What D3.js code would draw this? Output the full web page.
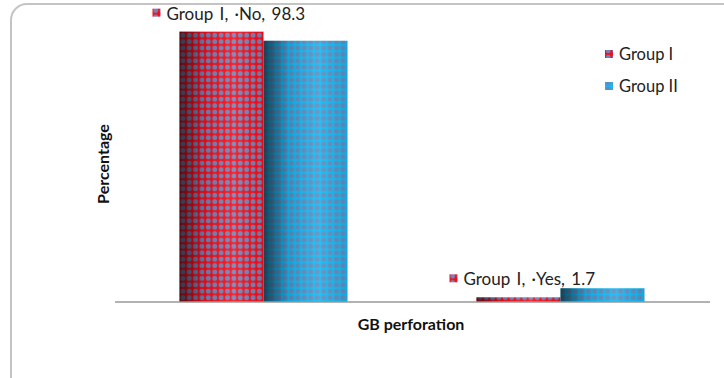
<!DOCTYPE html>
<html>
<head>
<meta charset="utf-8">
<script src="https://cdn.jsdelivr.net/npm/d3@7"></script>
<style>
  body { margin: 0; background: #fff; }
  svg { display: block; font-family: Lato, "Open Sans", sans-serif; }
</style>
</head>
<body>
<svg id="chart" width="724" height="378"></svg>
<script>
// data
const categories = ["No", "Yes"];
const seriesNames = ["Group I", "Group II"];
const groupOne = [98.3, 1.7];
const groupTwo = [95.0, 5.0];

const svg = d3.select("#chart");
const margin = { top: 27, left: 115, right: 15, bottom: 76 };
const width = 724, height = 378;

// outer frame with rounded corner
svg.append("rect")
    .attr("x", 11).attr("y", 4)
    .attr("width", 740).attr("height", 400)
    .attr("rx", 16)
    .attr("fill", "#fff")
    .attr("stroke", "#c4c4c4")
    .attr("stroke-width", 2);

const defs = svg.append("defs");

// dotted fill + cylinder shading for each series
const looks = [
  { id: "g1", base: "#f80c18", dot: "#7482b6" },
  { id: "g2", base: "#14b8f2", dot: "#5f8cc0" }
];
looks.forEach(l => {
  const p = defs.append("pattern")
      .attr("id", "pat-" + l.id)
      .attr("patternUnits", "userSpaceOnUse")
      .attr("width", 6.4).attr("height", 6.4);
  p.append("rect").attr("width", 6.4).attr("height", 6.4).attr("fill", l.base);
  p.append("circle").attr("cx", 3.2).attr("cy", 3.2).attr("r", 2.4).attr("fill", l.dot);

  const g = defs.append("linearGradient")
      .attr("id", "shade-" + l.id)
      .attr("x1", 0).attr("x2", 1).attr("y1", 0).attr("y2", 0);
  g.append("stop").attr("offset", 0).attr("stop-color", "#000").attr("stop-opacity", 0.6);
  g.append("stop").attr("offset", 0.3).attr("stop-color", "#000").attr("stop-opacity", 0.1);
  g.append("stop").attr("offset", 0.65).attr("stop-color", "#fff").attr("stop-opacity", 0.1);
  g.append("stop").attr("offset", 1).attr("stop-color", "#000").attr("stop-opacity", 0.08);
});

const x = d3.scaleBand()
    .domain(categories)
    .range([margin.left, width - margin.right]);

const xSub = d3.scaleBand()
    .domain(seriesNames)
    .range([0, 168]);

const y = d3.scaleLinear()
    .domain([0, 100])
    .range([height - margin.bottom, margin.top]);

const rows = categories.map((c, i) => ({
  cat: c,
  vals: [
    { name: seriesNames[0], v: groupOne[i], look: looks[0] },
    { name: seriesNames[1], v: groupTwo[i], look: looks[1] }
  ]
}));

const groups = svg.append("g")
  .selectAll("g")
  .data(rows)
  .join("g")
    .attr("transform", d => `translate(${x(d.cat) + (x.bandwidth() - 168) / 2},0)`);

groups.selectAll("rect.fill")
  .data(d => d.vals)
  .join("rect")
    .attr("class", "fill")
    .attr("x", d => xSub(d.name))
    .attr("width", xSub.bandwidth())
    .attr("y", d => y(d.v))
    .attr("height", d => y(0) - y(d.v))
    .attr("fill", d => `url(#pat-${d.look.id})`);

groups.selectAll("rect.shade")
  .data(d => d.vals)
  .join("rect")
    .attr("class", "shade")
    .attr("x", d => xSub(d.name))
    .attr("width", xSub.bandwidth())
    .attr("y", d => y(d.v))
    .attr("height", d => y(0) - y(d.v))
    .attr("fill", d => `url(#shade-${d.look.id})`);

// baseline
svg.append("line")
    .attr("x1", margin.left).attr("x2", width - margin.right + 1)
    .attr("y1", y(0)).attr("y2", y(0))
    .attr("stroke", "#999").attr("stroke-width", 1.5);

// data labels for Group I
const labels = svg.append("g")
  .selectAll("g")
  .data(rows)
  .join("g")
    .attr("transform", d => `translate(${x(d.cat) + (x.bandwidth() - 168) / 2 - 27},${y(d.vals[0].v) - 18})`);

labels.append("rect")
    .attr("x", 0).attr("y", -5)
    .attr("width", 8).attr("height", 8)
    .attr("fill", "url(#pat-g1)");
labels.append("text")
    .attr("x", 14).attr("y", 0)
    .attr("dy", "0.35em")
    .attr("font-size", 17)
    .attr("word-spacing", 2)
    .attr("fill", "#222")
    .text(d => `${d.vals[0].name}, ·${d.cat}, ${d.vals[0].v}`);

// legend
const legend = svg.append("g")
  .selectAll("g")
  .data(looks)
  .join("g")
    .attr("transform", (d, i) => `translate(605,${54 + i * 32})`);
legend.append("rect")
    .attr("x", 0).attr("y", -4)
    .attr("width", 8).attr("height", 8)
    .attr("fill", d => `url(#pat-${d.id})`);
legend.append("text")
    .attr("x", 14).attr("dy", "0.35em")
    .attr("font-size", 16.5)
    .attr("fill", "#222")
    .text((d, i) => seriesNames[i]);

// axis titles
svg.append("text")
    .attr("x", 411).attr("y", 324)
    .attr("text-anchor", "middle")
    .attr("dy", "0.35em")
    .attr("font-size", 16)
    .attr("font-weight", "bold")
    .attr("fill", "#111")
    .text("GB perforation");

svg.append("text")
    .attr("transform", "translate(103,164) rotate(-90)")
    .attr("text-anchor", "middle")
    .attr("dy", "0.35em")
    .attr("font-size", 16)
    .attr("font-weight", "bold")
    .attr("fill", "#111")
    .text("Percentage");
</script>
</body>
</html>
